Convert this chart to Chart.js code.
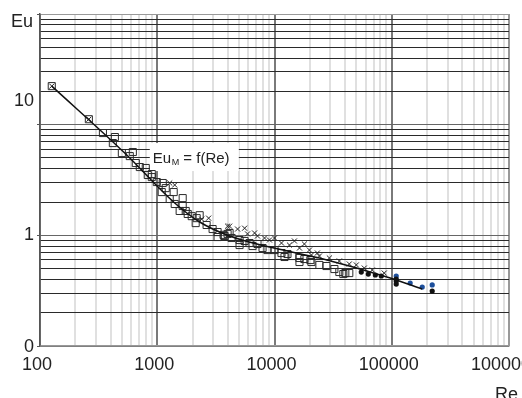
<!DOCTYPE html>
<html>
<head>
<meta charset="utf-8">
<script src="https://cdn.jsdelivr.net/npm/chart.js"></script>
<style>
  body { margin: 0; background: #fff; }
  canvas { display: block; }
</style>
</head>
<body>
<canvas id="chart" width="522" height="398"></canvas>
<script>
// open squares
const squareRe = [126, 261, 344, 435, 418, 499, 583, 619, 656, 710, 798, 830, 898, 898, 991, 1114, 1092, 1181,
  1381, 1277, 1409, 1553, 1648, 1648, 1749, 1819, 1967, 2168, 2127, 2300, 2636, 2966, 3270, 3270, 3680, 3981,
  3752, 4140, 4305, 5035, 5035, 5559, 6124, 6501, 7161, 7907, 8710, 10000, 11470, 12170, 12900, 14230, 16330,
  16330, 17990, 20230, 20650, 24150, 27730, 32420, 35730, 38650, 40180, 43450];
const squareEu = [22.3, 11.2, 8.4, 7.73, 6.82, 5.54, 5.2, 5.66, 4.5, 4.14, 4.06, 3.51, 3.36, 3.58, 3.03, 2.97, 2.46, 2.67,
  2.46, 2.13, 1.92, 1.66, 1.84, 2.17, 1.66, 1.56, 1.49, 1.43, 1.29, 1.52, 1.24, 1.14, 1.07, 0.965, 1.01, 1.03,
  0.986, 1.05, 0.946, 0.907, 0.817, 0.889, 0.852, 0.80, 0.835, 0.768, 0.736, 0.736, 0.692, 0.637, 0.678, 0.65, 0.624,
  0.574, 0.611, 0.598, 0.574, 0.54, 0.528, 0.496, 0.466, 0.447, 0.456, 0.456];

// x markers
const crossRe = [126, 261, 1277, 1409, 2393, 2742, 3981, 4140, 4842, 5559, 5888, 6761, 7161, 8222, 9057, 10000,
  11470, 13420, 14790, 16330, 17990, 19850, 20650, 23220, 24150, 29380, 35730, 43450, 49890, 58340, 68230, 86300];
const crossEu = [22.3, 11.2, 2.97, 2.85, 1.40, 1.43, 1.21, 1.21, 1.14, 1.16, 1.03, 1.05, 0.986, 0.946, 0.907, 0.946,
  0.852, 0.817, 0.889, 0.768, 0.835, 0.736, 0.664, 0.692, 0.65, 0.624, 0.586, 0.551, 0.54, 0.506, 0.486, 0.456];

// black dots
const blackRe = [54950, 63100, 72440, 81470, 109200, 109200, 109200, 221300];
const blackEu = [0.466, 0.447, 0.438, 0.429, 0.403, 0.386, 0.363, 0.314];

// blue dots
const blueRe = [109200, 143600, 182000, 221300];
const blueEu = [0.429, 0.371, 0.341, 0.356];

// fitted curve Eu_M = f(Re)
const fitRe = [126, 528, 1409, 2300, 4140, 9057, 24150, 97100, 182000];
const fitEu = [22.3, 5.54, 1.96, 1.32, 0.986, 0.784, 0.624, 0.411, 0.327];

const xTickLabels = ['100', '1000', '10000', '100000', '1000000'];
const yTickValues = [0.1, 1, 10];
const yTickLabels = ['0', '1', '10'];
const yLabelNudge = [1, 0, -24];   // the "10" sits higher in the original

const pts = (xs, ys) => xs.map((x, i) => ({ x: x, y: ys[i] }));

function isMajor(v) {
  const l = Math.log10(v);
  return Math.abs(l - Math.round(l)) < 1e-9;
}

function logTicks(min, max) {
  const out = [];
  for (let e = Math.round(Math.log10(min)); e < Math.round(Math.log10(max)); e++) {
    for (let k = 1; k < 10; k++) out.push({ value: +(k * Math.pow(10, e)).toPrecision(6) });
  }
  out.push({ value: max });
  return out;
}

const FONT = '"Liberation Sans", Arial, sans-serif';

const textPlugin = {
  id: 'texts',
  beforeDatasetsDraw(chart) {
    const c = chart.ctx, xs = chart.scales.x, ys = chart.scales.y;
    const x0 = xs.getPixelForValue(916), base = ys.getPixelForValue(4.5);
    c.save();
    c.fillStyle = '#fff';
    c.fillRect(x0 - 3, base - 20, 89, 28);
    c.restore();
  },
  afterDraw(chart) {
    const c = chart.ctx, xs = chart.scales.x, ys = chart.scales.y;
    c.save();
    c.fillStyle = '#222';
    // y tick labels
    c.font = '18px ' + FONT;
    c.textAlign = 'right';
    c.textBaseline = 'middle';
    yTickValues.forEach((v, i) => {
      c.fillText(yTickLabels[i], 34, ys.getPixelForValue(v) + yLabelNudge[i]);
    });
    // axis names
    c.fillText('Eu', 33, ys.top + 8);
    c.textBaseline = 'alphabetic';
    c.fillText('Re', 518, 400);
    // curve label with subscript
    const x0 = xs.getPixelForValue(916), base = ys.getPixelForValue(4.5);
    c.textAlign = 'left';
    c.font = '15px ' + FONT;
    c.fillText('Eu', x0, base);
    let w = c.measureText('Eu').width;
    c.font = '9px ' + FONT;
    c.fillText('М', x0 + w + 0.5, base + 2);
    w += c.measureText('М').width + 0.5;
    c.font = '15px ' + FONT;
    c.fillText(' = f(Re)', x0 + w, base);
    c.restore();
  }
};

new Chart(document.getElementById('chart'), {
  type: 'scatter',
  data: {
    datasets: [
      {
        data: pts(fitRe, fitEu),
        showLine: true,
        borderColor: '#111',
        borderWidth: 1.5,
        pointRadius: 0,
        cubicInterpolationMode: 'monotone',
        order: 0
      },
      {
        data: pts(squareRe, squareEu),
        pointStyle: 'rect',
        pointRadius: 5,
        borderColor: '#2a2a2a',
        backgroundColor: 'rgba(0,0,0,0)',
        borderWidth: 1,
        order: 2
      },
      {
        data: pts(crossRe, crossEu),
        pointStyle: 'crossRot',
        pointRadius: 3.6,
        borderColor: '#222',
        borderWidth: 1,
        order: 1
      },
      {
        data: pts(blackRe, blackEu),
        pointStyle: 'circle',
        pointRadius: 2.6,
        borderWidth: 0,
        backgroundColor: '#111',
        order: 1
      },
      {
        data: pts(blueRe, blueEu),
        pointStyle: 'circle',
        pointRadius: 2.6,
        borderWidth: 0,
        backgroundColor: '#1d4f9c',
        order: 1
      }
    ]
  },
  options: {
    responsive: false,
    animation: false,
    layout: { padding: { top: 14, right: 13, left: 0, bottom: 0 } },
    plugins: { legend: { display: false }, tooltip: { enabled: false } },
    scales: {
      x: {
        type: 'logarithmic',
        min: 100,
        max: 1000000,
        afterBuildTicks: s => { s.ticks = logTicks(100, 1000000); },
        afterFit: s => { s.height = 52; s.paddingLeft = 0; s.paddingRight = 0; },
        border: { display: true, color: '#999', width: 1.5 },
        grid: {
          drawTicks: false,
          lineWidth: 2,
          color: ctx => {
            const v = ctx.tick && ctx.tick.value;
            if (v === 1000000) return '#999';
            return isMajor(v) ? '#7a7a7a' : '#e0e0e0';
          }
        },
        ticks: {
          autoSkip: false,
          maxRotation: 0,
          padding: 8,
          labelOffset: -3,
          color: '#222',
          font: { size: 18, family: FONT },
          callback: v => isMajor(v) ? xTickLabels[Math.round(Math.log10(v)) - 2] : ''
        }
      },
      y: {
        type: 'logarithmic',
        min: 0.1,
        max: 100,
        afterBuildTicks: s => { s.ticks = logTicks(0.1, 100); },
        afterFit: s => { s.width = 40; s.paddingTop = 0; s.paddingBottom = 0; },
        border: { display: true, color: '#555', width: 1.5 },
        grid: {
          drawTicks: true,
          tickLength: 3,
          tickColor: ctx => isMajor(ctx.tick.value) ? '#555' : 'rgba(0,0,0,0)',
          lineWidth: 1,
          color: ctx => {
            const v = ctx.tick && ctx.tick.value;
            if (v === 100) return '#999';
            return isMajor(v) ? '#666' : '#2a2a2a';
          }
        },
        ticks: { display: false }
      }
    }
  },
  plugins: [textPlugin]
});
</script>
</body>
</html>
